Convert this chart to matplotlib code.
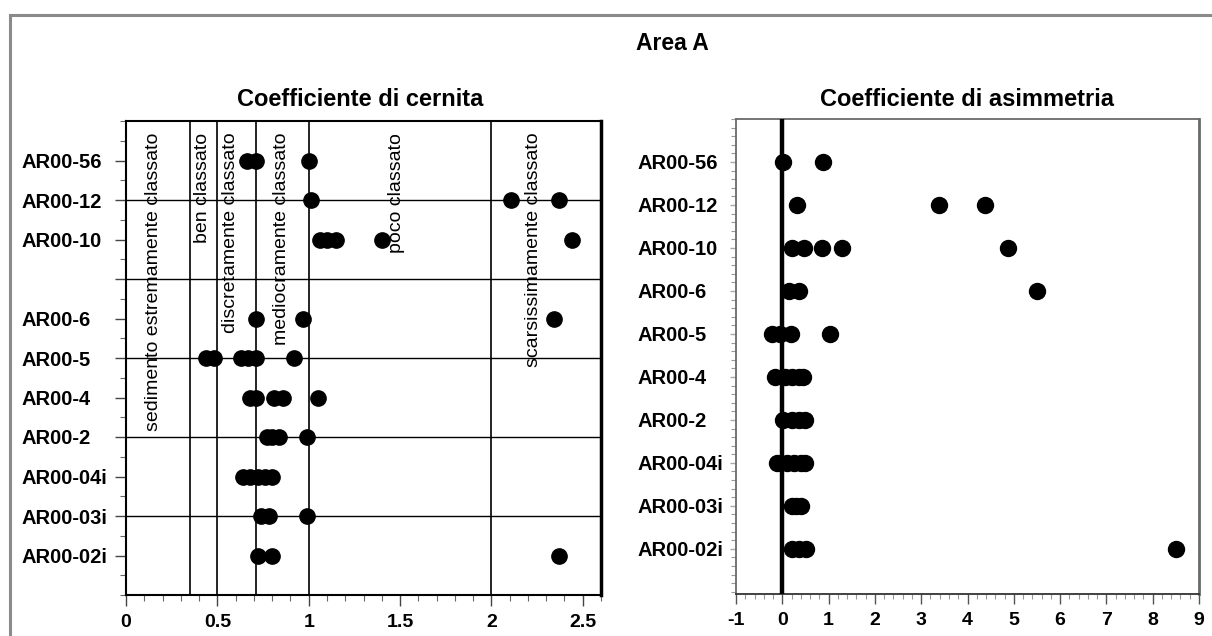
import matplotlib
matplotlib.use("Agg")
import matplotlib.pyplot as plt
from matplotlib.ticker import MultipleLocator, FixedLocator
from matplotlib.patches import Rectangle

plt.rcParams['font.family'] = ['Liberation Sans', 'DejaVu Sans']
plt.rcParams['axes.unicode_minus'] = False

# ---------------- data ----------------
main_title = "Area A"
left_title = "Coefficiente di cernita"
right_title = "Coefficiente di asimmetria"

left_samples = ["AR00-56", "AR00-12", "AR00-10", "", "AR00-6", "AR00-5", "AR00-4",
                "AR00-2", "AR00-04i", "AR00-03i", "AR00-02i"]
left_values = [
    [0.66, 0.71, 1.00],
    [1.01, 2.11, 2.37],
    [1.06, 1.10, 1.15, 1.40, 2.44],
    [],
    [0.71, 0.97, 2.34],
    [0.44, 0.48, 0.63, 0.67, 0.71, 0.92],
    [0.68, 0.71, 0.81, 0.86, 1.05],
    [0.77, 0.80, 0.84, 0.99],
    [0.64, 0.68, 0.72, 0.76, 0.80],
    [0.74, 0.78, 0.99],
    [0.72, 0.80, 2.37],
]
class_limits = [0.35, 0.5, 0.71, 1.0, 2.0]
class_labels = ["sedimento estremamente classato", "ben classato", "discretamente classato",
                "mediocramente classato", "poco classato", "scarsissimamente classato"]
class_label_x = [0.15, 0.42, 0.57, 0.85, 1.48, 2.23]
grid_rows = [2, 4, 6, 8, 10]

right_samples = ["AR00-56", "AR00-12", "AR00-10", "AR00-6", "AR00-5", "AR00-4",
                 "AR00-2", "AR00-04i", "AR00-03i", "AR00-02i"]
right_values = [
    [0.02, 0.87],
    [0.32, 3.39, 4.38],
    [0.22, 0.46, 0.85, 1.29, 4.88],
    [0.15, 0.37, 5.51],
    [-0.22, -0.04, 0.18, 1.03],
    [-0.15, 0.05, 0.20, 0.35, 0.45],
    [0.02, 0.20, 0.35, 0.50],
    [-0.12, 0.10, 0.25, 0.40, 0.50],
    [0.22, 0.30, 0.40],
    [0.20, 0.35, 0.52, 8.50],
]

# ---------------- figure ----------------
W, H = 1212, 636
fig = plt.figure(figsize=(W / 100, H / 100), dpi=100)
fig.patch.set_facecolor("white")

# outer frame
fig.patches.append(Rectangle((10 / W, -0.05), 1.1, 1 - 15 / H + 0.05, transform=fig.transFigure,
                             fill=False, edgecolor="#8a8a8a", linewidth=2.2))

tick_fs = 14
ylab_fs = 14.5

# ---- left axes ----
axL = fig.add_axes([126 / W, 1 - 595 / H, (601 - 126) / W, (595 - 121) / H])
for i, vals in enumerate(left_values):
    pos = i + 1
    axL.plot(vals, [pos] * len(vals), 'o', color='black', markersize=11, zorder=5,
             clip_on=False, linestyle='none')
for xl in class_limits:
    axL.axvline(xl, color='black', lw=1.2, zorder=2)
for yl in grid_rows:
    axL.axhline(yl, color='black', lw=1.0, zorder=2)
for lab, xp in zip(class_labels, class_label_x):
    axL.text(xp, 0.3, lab, rotation=90, ha='center', va='top', fontsize=14, zorder=4)
axL.set_xlim(0, 2.6)
axL.set_ylim(12, 0)
axL.xaxis.set_major_locator(FixedLocator([0, 0.5, 1, 1.5, 2, 2.5]))
axL.set_xticklabels(["0", "0.5", "1", "1.5", "2", "2.5"])
axL.xaxis.set_minor_locator(MultipleLocator(0.1))
axL.yaxis.set_major_locator(FixedLocator(list(range(1, len(left_samples) + 1))))
axL.set_yticklabels(left_samples)
axL.yaxis.set_minor_locator(MultipleLocator(0.5))
axL.tick_params(axis='both', which='major', direction='out', length=8, width=1.0,
                labelsize=tick_fs, color='#444')
# left-aligned labels starting at x ~ 22 px
axL.tick_params(axis='y', which='major', pad=(126 - 22) * 0.72 - 8, labelsize=ylab_fs)
axL.tick_params(axis='x', which='major', pad=6)
axL.tick_params(axis='both', which='minor', direction='out', length=4, width=0.8, color='#666')
for lbl in axL.get_xticklabels() + axL.get_yticklabels():
    lbl.set_fontweight('bold')
for lbl in axL.get_yticklabels():
    lbl.set_horizontalalignment('left')
for s in axL.spines.values():
    s.set_color('black')
    s.set_linewidth(1.5)
axL.spines['right'].set_linewidth(2.5)

# ---- right axes ----
axR = fig.add_axes([736 / W, 1 - 594 / H, (1199 - 736) / W, (594 - 119) / H])
axR.axvline(0, color='black', lw=3.2, zorder=3)
for i, vals in enumerate(right_values):
    pos = i + 1
    axR.plot(vals, [pos] * len(vals), 'o', color='black', markersize=11.5, zorder=5,
             linestyle='none')
axR.set_xlim(-1, 9)
axR.set_ylim(11.05, 0)
axR.xaxis.set_major_locator(MultipleLocator(1))
axR.xaxis.set_minor_locator(MultipleLocator(0.2))
axR.yaxis.set_major_locator(FixedLocator(list(range(1, len(right_samples) + 1))))
axR.set_yticklabels(right_samples)
axR.yaxis.set_minor_locator(MultipleLocator(0.2))
axR.tick_params(axis='both', which='major', direction='out', length=7, width=1.0,
                labelsize=tick_fs, color='#555')
axR.tick_params(axis='y', which='major', pad=(736 - 638) * 0.72 - 4, length=4, color='#aaa',
                labelsize=ylab_fs)
axR.tick_params(axis='x', which='major', pad=6)
axR.tick_params(axis='both', which='minor', direction='out', length=3.5, width=0.8, color='#999')
for lbl in axR.get_xticklabels() + axR.get_yticklabels():
    lbl.set_fontweight('bold')
for lbl in axR.get_yticklabels():
    lbl.set_horizontalalignment('left')
for name, s in axR.spines.items():
    s.set_color('#6a6a6a')
    s.set_linewidth(1.3)
axR.spines['bottom'].set_color('#333')
axR.spines['right'].set_linewidth(2.0)

# ---- titles ----
fig.text(672 / W, 1 - 44 / H, main_title, ha='center', va='center', fontsize=16.5, fontweight='bold')
fig.text(360 / W, 1 - 100 / H, left_title, ha='center', va='center', fontsize=17, fontweight='bold')
fig.text(967 / W, 1 - 100 / H, right_title, ha='center', va='center', fontsize=17, fontweight='bold')

fig.savefig("out.png", dpi=100, facecolor="white")
